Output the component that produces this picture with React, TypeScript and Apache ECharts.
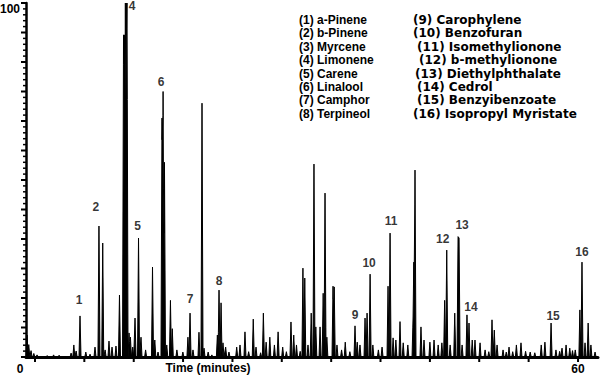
import React, { useEffect, useRef } from 'react';
import * as echarts from 'echarts';

// Retention time (minutes) and relative abundance (%) of every visible peak
const peaks: [number, number][] = [
  [0.12, 6.2], [0.3, 3.5], [0.55, 1.8], [0.85, 1.0], [1.2, 0.6],
  [2.3, 0.4], [3.0, 0.6], [3.6, 0.5],
  [4.9, 1.1], [5.2, 3.4], [5.45, 1.7], [5.87, 11.6], [6.5, 1.4], [6.96, 0.8], [7.5, 2.8],
  [7.93, 37], [8.34, 32.2], [8.6, 2], [9.02, 4.5], [9.35, 2.8], [9.78, 3.1], [10.16, 17.5],
  [10.6, 91], [10.7, 91], [10.8, 100], [10.9, 100], [10.98, 100], [11.2, 6.8], [11.35, 5.6],
  [11.6, 2.8], [11.85, 11], [12.23, 33.6], [12.5, 5.6], [13.0, 2], [13.75, 25.4], [14.0, 4.8],
  [14.35, 1.4], [14.78, 67.5], [14.9, 75], [15.05, 55], [15.3, 3.4], [15.7, 16], [15.9, 8],
  [16.4, 2], [17.05, 1.4], [17.6, 5.6], [17.83, 12.4], [18.15, 2], [18.8, 7], [19.13, 71.7],
  [19.35, 2.5], [19.8, 1.4], [20.2, 0.6], [20.8, 6.2], [20.98, 18.9], [21.2, 15.3], [21.41, 4],
  [21.7, 2.8], [22.06, 1.4], [22.9, 2.8], [23.26, 3.4], [23.8, 7.1], [24.2, 1.5], [24.7, 10.7],
  [25.0, 2.8], [25.5, 1.2], [25.8, 12.4], [26.1, 4.2], [26.5, 5.6], [27.0, 3.4], [27.4, 7.1],
  [27.9, 2.8], [28.3, 1.5], [28.8, 9.9], [29.1, 6.2], [29.4, 3.4], [29.8, 1.6], [30.1, 25.1],
  [30.3, 22.3], [30.65, 3.4], [31.0, 12.4], [31.3, 54.5], [31.5, 8.5], [31.96, 8.5], [32.3, 18],
  [32.5, 46.3], [32.7, 5.6], [33.37, 20], [33.5, 19.8], [33.8, 3.4], [34.3, 2], [34.7, 4.2],
  [35.2, 1.5], [35.76, 8.8], [36.0, 4.2], [36.3, 3.4], [36.85, 11], [37.07, 12.4], [37.4, 23.4],
  [37.7, 3.4], [38.3, 2], [38.7, 2.8], [39.35, 20], [39.57, 35], [39.9, 5.4], [40.2, 4.8],
  [40.65, 10], [41.0, 4], [41.5, 3.4], [42.07, 11.3], [42.15, 26.8], [42.28, 52.8], [42.93, 8.5],
  [43.26, 4.8], [43.9, 4.2], [44.35, 4.8], [44.8, 3.4], [45.2, 4], [45.5, 16], [45.73, 30.2],
  [46.1, 3.4], [46.6, 12.4], [46.96, 34], [47.07, 33.6], [47.4, 3.4], [47.93, 11.9], [48.15, 9.6],
  [48.5, 4.8], [48.8, 4.8], [49.35, 4], [49.9, 2], [50.3, 1.5], [50.65, 10.5], [50.9, 7.6],
  [51.2, 3.4], [51.85, 2], [52.2, 1.4], [52.5, 2.8], [52.9, 1.5], [53.3, 3.4], [53.8, 4],
  [54.3, 1.6], [54.8, 1.4], [55.3, 1.2], [56.0, 3.4], [56.4, 4.2], [57.07, 9.6], [57.6, 2],
  [58.0, 1.6], [58.26, 2.5], [58.7, 3.4], [59.1, 2.5], [59.4, 1.8], [59.7, 2], [60.2, 13.3],
  [60.43, 26.8], [60.76, 4], [61.1, 9.6], [61.4, 3.4], [61.85, 1.4],
];

// Compound names (legend) and the peaks carrying their number label
const compoundNames = [
  'a-Pinene', 'b-Pinene', 'Myrcene', 'Limonene', 'Carene', 'Linalool', 'Camphor', 'Terpineol',
  'Carophylene', 'Benzofuran', 'Isomethylionone', 'b-methylionone', 'Diethylphthalate', 'Cedrol',
  'Benzyibenzoate', 'Isopropyl Myristate',
];
const labelIds = [1, 2, 4, 5, 6, 7, 8, 9, 10, 11, 12, 13, 14, 15, 16];
const labelTimes = [5.87, 7.93, 10.98, 12.23, 14.9, 17.83, 20.98, 35.76, 37.4, 39.57, 45.73, 46.96, 47.93, 57.07, 60.43];
const labelHeights = [11.6, 37, 100, 33.6, 75, 12.4, 18.9, 8.8, 23.4, 35, 30.2, 34, 11.9, 9.6, 26.8];

// Axis ticks / labels
const xTickValues = [0.98, 6.34, 11.71, 17.07, 22.44, 27.8, 33.17, 38.53, 43.9, 49.26, 54.63, 60];
const xLabelValues = [0, 60];
const yMajorStep = 100 / 12;
const yMinorPerMajor = 5;

// ---- styling / layout (not data) ----
const X_MAX = 62.17;
const HALF_WIDTH = 0.11;
const FONT = "'Liberation Sans', Arial, Helvetica, sans-serif";
const FONT_WIDE = "'DejaVu Sans', Verdana, sans-serif";
const labelOffsets: Record<number, [number, number]> = {
  1: [-1, -16], 2: [-3, -19], 4: [5, 3], 5: [-1, -12], 6: [-2, -10], 7: [0, -14], 8: [0, -9],
  9: [0, -11], 10: [-1, -11], 11: [1, -12], 12: [-4, -11], 13: [4, -12], 14: [4, -8], 15: [2, -7],
  16: [0, -10],
};
const rightColX = [413, 413, 417, 419, 415, 417, 417, 413];

function buildTrace(): [number, number][] {
  const xs = new Set<number>([0, X_MAX]);
  peaks.forEach(([t]) => { xs.add(t - HALF_WIDTH); xs.add(t); xs.add(t + HALF_WIDTH); });
  return [...xs]
    .filter((x) => x >= 0 && x <= X_MAX)
    .sort((a, b) => a - b)
    .map((x) => {
      let v = 0;
      for (const [t, h] of peaks) {
        const f = h * Math.max(0, 1 - Math.abs(x - t) / HALF_WIDTH);
        if (f > v) v = f;
      }
      return [x, v] as [number, number];
    });
}

function yTicks(): [number, boolean][] {
  const out: [number, boolean][] = [];
  const n = 12 * yMinorPerMajor;
  for (let i = 0; i <= n; i++) out.push([(i * yMajorStep) / yMinorPerMajor, i % yMinorPerMajor === 0]);
  return out;
}

export default function App() {
  const ref = useRef<HTMLDivElement>(null);
  useEffect(() => {
    if (!ref.current) return;
    const chart = echarts.init(ref.current, null, { renderer: 'svg' });

    const legendTexts: any[] = [];
    compoundNames.forEach((name, i) => {
      const col = i < 8 ? 0 : 1;
      const row = i % 8;
      legendTexts.push({
        type: 'text',
        x: col === 0 ? 299 : rightColX[row],
        y: 20 + row * 13.4,
        style: {
          text: `(${i + 1}) ${name}`,
          fill: '#000',
          font: col === 0 ? `bold 12px ${FONT}` : `bold 12px ${FONT_WIDE}`,
          lineHeight: 12,
          verticalAlign: 'middle',
          align: 'left',
        },
      });
    });
    const axisTitle = {
      type: 'text',
      x: 208,
      y: 368,
      style: {
        text: 'Time (minutes)',
        fill: '#000',
        font: `bold 12px ${FONT}`,
        align: 'center',
        verticalAlign: 'middle',
      },
    };

    chart.setOption({
      animation: false,
      backgroundColor: '#fff',
      grid: { left: 26, right: 2, top: 3, bottom: 23, outerBoundsMode: 'none', containLabel: false },
      xAxis: {
        type: 'value',
        min: 0,
        max: X_MAX,
        splitLine: { show: false },
        axisLine: { show: true, onZero: false, lineStyle: { color: '#000', width: 3 } },
        axisTick: { show: false },
        axisLabel: {
          show: true,
          customValues: xLabelValues,
          margin: 6,
          formatter: (v: number) => (v === 0 ? '{z|0}' : String(v)),
          color: '#000',
          fontWeight: 'bold',
          fontSize: 12,
          fontFamily: FONT,
          rich: { z: { padding: [0, 12, 0, 0], color: '#000', fontWeight: 'bold', fontSize: 12, fontFamily: FONT } },
        },
      },
      yAxis: {
        type: 'value',
        min: 0,
        max: 100,
        interval: yMajorStep,
        splitLine: { show: false },
        axisLine: { show: true, lineStyle: { color: '#000', width: 2.5 } },
        axisTick: { show: false },
        axisLabel: {
          show: true,
          showMinLabel: false,
          margin: 6,
          verticalAlign: 'top',
          formatter: (v: number) => (v > 99.9 ? '100' : ''),
          color: '#000',
          fontWeight: 'bold',
          fontSize: 12,
          fontFamily: FONT,
        },
      },
      series: [
        {
          type: 'line',
          data: buildTrace(),
          showSymbol: false,
          lineStyle: { color: '#000', width: 1 },
          areaStyle: { color: '#000', opacity: 1 },
          z: 2,
        },
        {
          type: 'scatter',
          symbolSize: 0,
          data: labelIds.map((id, i) => ({
            value: [labelTimes[i], labelHeights[i]],
            name: String(id),
            label: { offset: labelOffsets[id] },
          })),
          label: {
            show: true,
            position: 'inside',
            formatter: (p: any) => p.name,
            color: '#000',
            fontWeight: 'bold',
            fontSize: 12,
            fontFamily: FONT,
          },
          z: 3,
        },
      ],
      graphic: [...legendTexts, axisTitle],
    });

    // Tick marks placed through the chart's own scales
    const tickEls: any[] = [];
    xTickValues.forEach((v) => {
      const p = chart.convertToPixel({ gridIndex: 0 }, [v, 0]) as number[];
      tickEls.push({
        type: 'rect',
        shape: { x: p[0] - 1, y: p[1], width: 2, height: 5 },
        style: { fill: '#000' },
        z: 10,
      });
    });
    yTicks().forEach(([v, major]) => {
      const p = chart.convertToPixel({ gridIndex: 0 }, [0, v]) as number[];
      const len = major ? 5 : 3;
      tickEls.push({
        type: 'rect',
        shape: { x: p[0] - len, y: p[1] - (major ? 1 : 0.75), width: len, height: major ? 2 : 1.5 },
        style: { fill: '#000' },
        z: 10,
      });
    });
    chart.setOption({ graphic: [...legendTexts, axisTitle, ...tickEls] });

    return () => chart.dispose();
  }, []);
  return <div ref={ref} style={{ position: 'fixed', left: 0, top: 0, width: 600, height: 380, background: '#fff' }} />;
}
